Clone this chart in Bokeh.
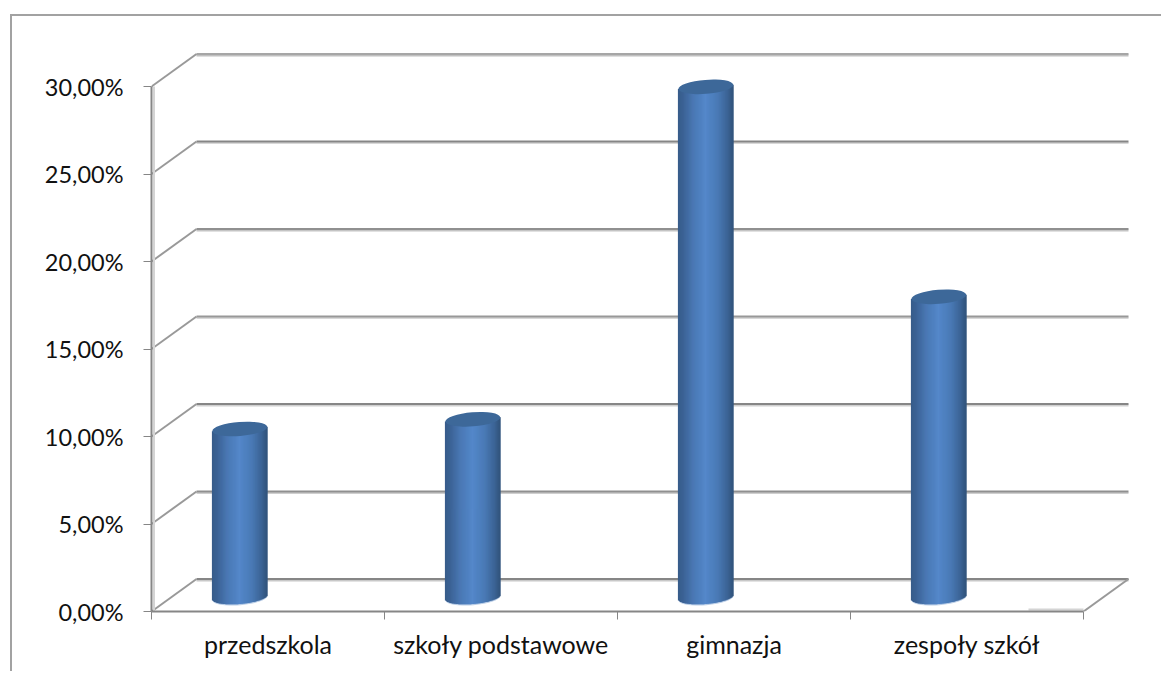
import numpy as np
from bokeh.embed import file_html
from bokeh.models import FixedTicker, LinearAxis, Range1d
from bokeh.plotting import figure
from bokeh.resources import INLINE

categories = ["przedszkola", "szkoły podstawowe", "gimnazja", "zespoły szkół"]
values = [9.6, 10.15, 29.15, 17.15]
y_ticks = [0, 5, 10, 15, 20, 25, 30]
y_labels = ["0,00%", "5,00%", "10,00%", "15,00%", "20,00%", "25,00%", "30,00%"]

PX_X = 233.0          # pixels per category
PX_Y = 17.47          # pixels per percentage point
DEPTH_X = 45 / PX_X   # receding depth of the 3D box
DEPTH_Y = 1.86
BAR_OFFSET = 0.379    # cylinder centre within a category slot
BAR_W = 55            # cylinder width, px
BAR_BASE = 0.83       # cylinder base centre above the floor front edge
ELL_H = 14            # ellipse height, px
TILT = 0.08           # ellipse tilt, radians

AXIS = "#868686"
SHADOW = "#d4d4d4"
FONT = "Lato"

p = figure(
    width=1151, height=657, margin=(14, 0, 0, 10),
    output_backend="svg", toolbar_location=None,
    x_range=Range1d(0, (1163 - 151) / PX_X),
    y_range=Range1d(0, (610 - 16) / PX_Y),
    min_border_left=139, min_border_right=0, min_border_top=0, min_border_bottom=62,
    outline_line_color=None, background_fill_color="white", border_fill_color="white",
    x_axis_type=None, y_axis_type=None,
    styles={"border-left": "2px solid #a2a2a2", "border-top": "2px solid #a2a2a2"},
)
p.grid.visible = False

y_axis = LinearAxis(
    ticker=FixedTicker(ticks=y_ticks), bounds=(0, 30),
    major_label_overrides={t: s for t, s in zip(y_ticks, y_labels)},
    axis_line_color=AXIS, axis_line_width=2,
    major_tick_line_color=AXIS, major_tick_line_width=1,
    major_tick_in=0, major_tick_out=8, minor_tick_line_color=None,
    major_label_text_font=FONT, major_label_text_font_size="23.5px",
    major_label_text_color="#111111", major_label_standoff=20,
)
p.add_layout(y_axis, "left")

centres = [i + 0.5 for i in range(len(categories))]
x_axis = LinearAxis(
    ticker=FixedTicker(ticks=centres, minor_ticks=list(range(len(categories) + 1))),
    bounds=(0, len(categories)),
    major_label_overrides={c: s for c, s in zip(centres, categories)},
    axis_line_color=AXIS, axis_line_width=2,
    major_tick_line_color=None, major_tick_in=0, major_tick_out=0,
    minor_tick_line_color=AXIS, minor_tick_line_width=1, minor_tick_in=0, minor_tick_out=8,
    major_label_text_font=FONT, major_label_text_font_size="25px",
    major_label_text_color="#111111", major_label_standoff=9,
)
p.add_layout(x_axis, "below")

# Back wall: gridlines with a pale lower edge, and the side wall diagonals
n_cat = len(categories)
back_y = [t + DEPTH_Y for t in y_ticks]
line_cols = [AXIS, "#909090", AXIS, "#989898", "#909090", AXIS, "#a6a6a6"]
edge_cols = ["#c8c8c8", "#cfcfcf", "#d0d0d0", "#d8d8d8", "#c4c4c4", "#d8d8d8", "#c0c0c0"]
p.segment(x0=[DEPTH_X] * 7, x1=[DEPTH_X + n_cat] * 7,
          y0=[y - 1.5 / PX_Y for y in back_y], y1=[y - 1.5 / PX_Y for y in back_y],
          line_color=edge_cols, line_width=2)
p.segment(x0=[DEPTH_X] * 7, x1=[DEPTH_X + n_cat] * 7, y0=back_y, y1=back_y,
          line_color=line_cols, line_width=2)
p.segment(x0=[0] * 7, x1=[DEPTH_X] * 7, y0=y_ticks, y1=back_y,
          line_color="#999999", line_width=2)
p.segment(x0=[n_cat], x1=[n_cat + DEPTH_X], y0=[0], y1=[DEPTH_Y],
          line_color="#999999", line_width=2)
# Pale strip beside the value axis and on the floor's front right edge
p.segment(x0=[2.5 / PX_X], x1=[2.5 / PX_X], y0=[0], y1=[30],
          line_color=SHADOW, line_width=2)
p.segment(x0=[n_cat - 55 / PX_X], x1=[n_cat], y0=[2 / PX_Y], y1=[2 / PX_Y],
          line_color=SHADOW, line_width=2)

# Cylinders: a horizontal shading made of one-pixel strips, capped by tilted ellipses
stops_t = [-1.0, -0.8, -0.45, 0.0, 0.45, 0.8, 1.0]
stops_rgb = np.array([
    (56, 92, 138), (60, 99, 150), (74, 120, 180), (84, 136, 202),
    (74, 122, 182), (60, 100, 150), (50, 84, 124),
])
strip_px = np.arange(-BAR_W / 2 + 0.5, BAR_W / 2, 1.0)
strip_t = strip_px / (BAR_W / 2)
strip_rgb = np.column_stack([np.interp(strip_t, stops_t, stops_rgb[:, k]) for k in range(3)])
strip_col = ["#%02x%02x%02x" % tuple(int(c) for c in row) for row in strip_rgb]

for i, v in enumerate(values):
    cx = i + BAR_OFFSET
    # Light rim under the base
    p.ellipse(x=[cx], y=[BAR_BASE - 1.2 / PX_Y], width=BAR_W / PX_X, height=ELL_H / PX_Y,
              angle=TILT, fill_color="#b9cde6", line_color=None)
    xs = cx + strip_px / PX_X
    lift = strip_px * np.tan(TILT) / PX_Y
    lower = BAR_BASE + lift - (ELL_H / 2 / PX_Y) * np.sqrt(np.clip(1 - strip_t ** 2, 0, 1))
    upper = BAR_BASE + v + lift
    p.vbar(x=xs, width=1.8 / PX_X, bottom=lower, top=upper,
           fill_color=strip_col, line_color=None)
    p.ellipse(x=[cx], y=[BAR_BASE + v], width=BAR_W / PX_X, height=ELL_H / PX_Y,
              angle=TILT, fill_color="#3d6899", line_color=None)

open("out.html", "w").write(file_html(p, INLINE))
